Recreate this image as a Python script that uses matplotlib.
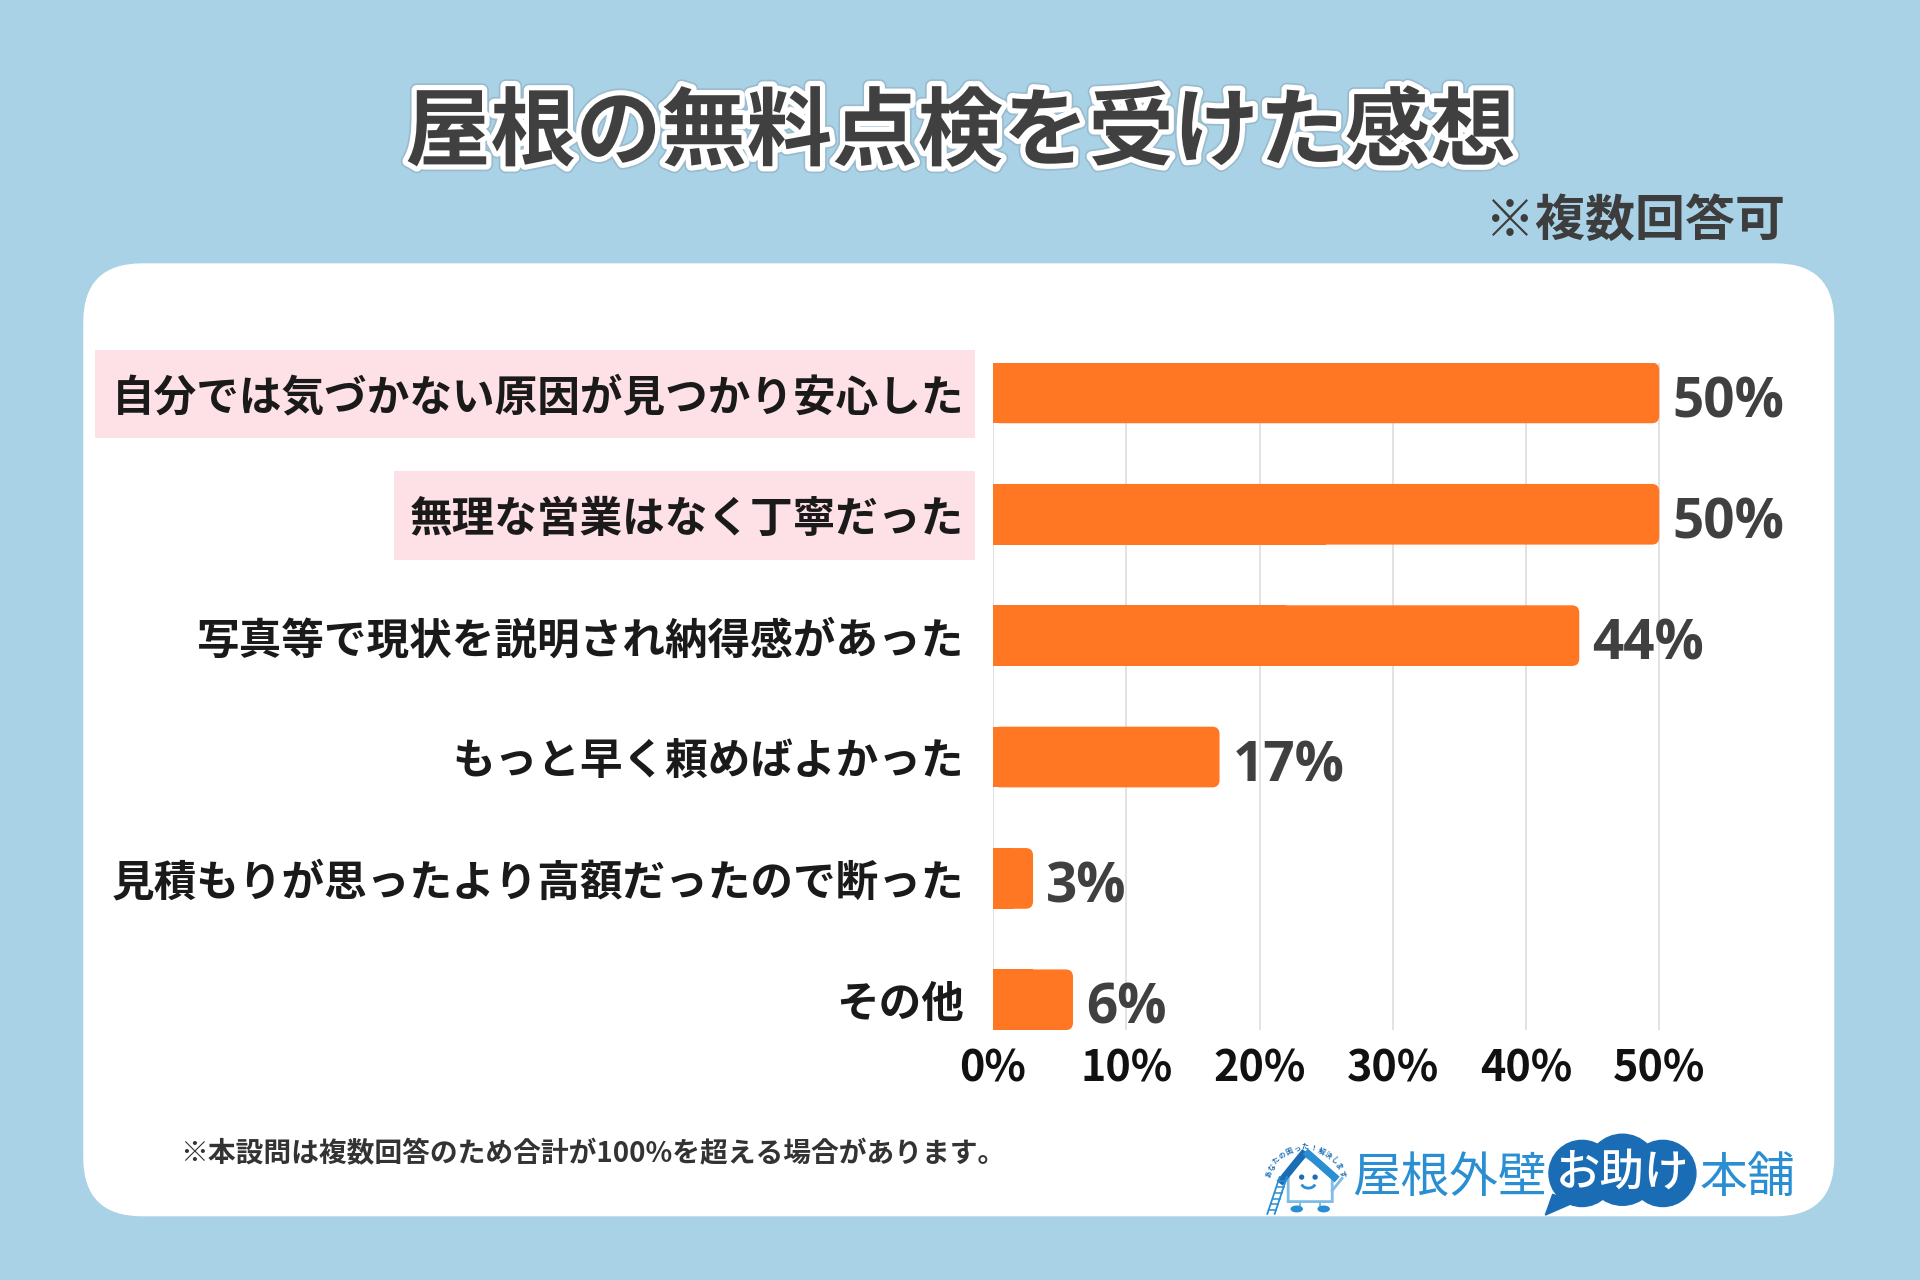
import matplotlib
matplotlib.use('Agg')
import matplotlib.pyplot as plt
from matplotlib.patches import FancyBboxPatch, Circle, Polygon, Ellipse, Arc, Rectangle
import matplotlib.patheffects as pe
import numpy as np

# ---------------- data ----------------
categories = [
    '自分では気づかない原因が見つかり安心した',
    '無理な営業はなく丁寧だった',
    '写真等で現状を説明され納得感があった',
    'もっと早く頼めばよかった',
    '見積もりが思ったより高額だったので断った',
    'その他',
]
values = [50, 50, 44, 17, 3, 6]
highlight = [True, True, False, False, False, False]
xticks = [0, 10, 20, 30, 40, 50]
xtick_labels = ['0%', '10%', '20%', '30%', '40%', '50%']
title = '屋根の無料点検を受けた感想'
subtitle = '※複数回答可'
footnote = '※本設問は複数回答のため合計が100%を超える場合があります。'
brand_left = '屋根外壁'
brand_mid = 'お助け'
brand_right = '本舗'
tagline = 'あなたの困った！解決します'

# ---------------- style ----------------
BG = '#AAD2E6'
ORANGE = '#FF7722'
PINK = '#FDE1E7'
DARK = '#404040'
BLUE = '#2A8ED2'
NAVY = '#1A6DB5'
JP = ['Noto Sans CJK JP', 'DejaVu Sans']
LAT = ['Open Sans', 'DejaVu Sans']
plt.rcParams['font.family'] = JP

fig = plt.figure(figsize=(19.2, 12.8), dpi=100)
fig.patch.set_facecolor(BG)

# background canvas in reference pixel units (1568 x 1045)
W, H = 1568, 1045
bg = fig.add_axes([0, 0, 1, 1])
bg.set_xlim(0, W)
bg.set_ylim(H, 0)
bg.axis('off')
bg.patch.set_alpha(0)

panel = FancyBboxPatch((68, 215), 1430, 778,
                       boxstyle='round,pad=0,rounding_size=48',
                       fc='white', ec='none', zorder=1)
bg.add_patch(panel)

bg.text(784, 109, title, ha='center', va='center', fontsize=61.5,
        fontweight='bold', color=DARK, zorder=5,
        path_effects=[pe.Stroke(linewidth=10, foreground='#8aa6b8', alpha=0.5),
                      pe.Stroke(linewidth=7.5, foreground='white'),
                      pe.Normal()])
bg.text(1458, 181, subtitle, ha='right', va='center', fontsize=36,
        fontweight='bold', color='#3d3d3d', zorder=5)
bg.text(147, 942, footnote, ha='left', va='center', fontsize=20,
        fontweight='bold', color='#333333', zorder=5)

# ---- logo ----
LB = '#7FBCE6'
# body
bg.add_patch(Polygon([[1052, 958], [1066, 944], [1088, 958], [1088, 981], [1052, 981]],
                     closed=True, fc='white', ec=LB, lw=2, zorder=6))
# arms
bg.plot([1088, 1096], [972, 962], color=LB, lw=2, zorder=6)
# roof
bg.plot([1045, 1066], [966, 940], color=NAVY, lw=5.5, solid_capstyle='butt', zorder=7)
bg.plot([1066, 1092], [940, 963], color=BLUE, lw=5.5, solid_capstyle='butt', zorder=7)
# face
bg.add_patch(Circle((1063, 961), 1.6, color=NAVY, zorder=7))
bg.add_patch(Circle((1074, 961), 1.6, color=NAVY, zorder=7))
bg.add_patch(Arc((1068.5, 965), 12, 10, theta1=20, theta2=160, color=BLUE, lw=2, zorder=7))
# legs & feet
bg.plot([1062, 1062], [981, 986], color=LB, lw=1.5, zorder=6)
bg.plot([1078, 1078], [981, 986], color=LB, lw=1.5, zorder=6)
bg.add_patch(Ellipse((1059, 987), 9, 4.5, color=BLUE, zorder=7))
bg.add_patch(Ellipse((1081, 987), 9, 4.5, color=BLUE, zorder=7))
# ladder
bg.plot([1035, 1045], [991, 961], color=BLUE, lw=1.3, zorder=8)
bg.plot([1041, 1051], [991, 961], color=BLUE, lw=1.3, zorder=8)
for k in range(6):
    t = k / 5.5
    ya = 988 - t * 26
    xa = 1036 + t * 9
    bg.plot([xa, xa + 6], [ya, ya], color=BLUE, lw=1.1, zorder=8)
# tagline along an arc
n = len(tagline)
for i, ch in enumerate(tagline):
    ang = np.deg2rad(165 - i * (150 / (n - 1)))
    cx, cy = 1066 + 31 * np.cos(ang), 966 - 29 * np.sin(ang)
    bg.text(cx, cy, ch, ha='center', va='center', fontsize=5, color=NAVY,
            fontweight='bold', rotation=np.rad2deg(ang) - 90, zorder=8)

bg.text(1104, 962, brand_left, ha='left', va='center', fontsize=35,
        color=BLUE, zorder=6)
for (cx, cy, r) in [(1292, 958, 27), (1325, 955, 29), (1358, 958, 27)]:
    bg.add_patch(Circle((cx, cy), r, color=NAVY, zorder=6))
bg.add_patch(Polygon([[1268, 975], [1262, 992], [1285, 982]], closed=True,
                     color=NAVY, zorder=6))
bg.text(1325, 958, brand_mid, ha='center', va='center', fontsize=32,
        color='white', fontweight='medium', zorder=7)
bg.text(1388, 962, brand_right, ha='left', va='center', fontsize=34.5,
        color=BLUE, zorder=6)

# ---------------- chart ----------------
x0, x50 = 811, 1355
xmax = 60
ax_w = (x50 - x0) / 50 * xmax
ax = fig.add_axes([x0 / W, 1 - 841 / H, ax_w / W, (841 - 296) / H])
ax.patch.set_alpha(0)
ax.set_zorder(3)

ypos = np.arange(len(categories))
bar_h = 0.5
bars = ax.barh(ypos, values, height=bar_h, color=ORANGE, zorder=3)
ax.set_xlim(0, xmax)
ax.set_ylim(len(categories) - 1 + bar_h / 2, -bar_h / 2)

# rounded right ends
px_per_x = (x50 - x0) / 50
px_per_y = 99
r_px = 6
for rect in bars:
    x, yb, w, h = rect.get_x(), rect.get_y(), rect.get_width(), rect.get_height()
    rr = r_px / px_per_x
    p = FancyBboxPatch((x, yb), w, h,
                       boxstyle=f'round,pad=0,rounding_size={rr}',
                       mutation_aspect=(r_px / px_per_y) / rr,
                       fc=ORANGE, ec='none', zorder=3)
    ax.add_patch(p)
    rect.set_width(w / 2)

for i, v in enumerate(values):
    ax.text(v + 1.0, i + 0.08, f'{v}%', ha='left', va='center', fontsize=39.5,
            fontweight='bold', color=DARK, family=LAT, zorder=4)

ax.set_xticks(xticks)
ax.set_xticklabels(xtick_labels, fontsize=31, fontweight='bold', color='#111111')
ax.set_yticks(ypos)
ax.set_yticklabels(categories, fontsize=30.7, fontweight='bold', color='#1a1a1a')
ax.tick_params(axis='y', length=0, pad=21)
ax.tick_params(axis='x', length=0, pad=12)

ax.grid(axis='x', color='#DDDDDD', lw=1.2, zorder=0)
ax.set_axisbelow(True)
for s in ax.spines.values():
    s.set_visible(False)

# pink highlight boxes behind highlighted category labels
fig.canvas.draw()
renderer = fig.canvas.get_renderer()
inv = bg.transData.inverted()
for lab, hl, yv in zip(ax.get_yticklabels(), highlight, ypos):
    if hl:
        ext = lab.get_window_extent(renderer)
        (lx, _), (rx, _) = inv.transform([[ext.x0, ext.y0], [ext.x1, ext.y1]])
        yc = inv.transform(ax.transData.transform([[0, yv]]))[0][1]
        bg.add_patch(Rectangle((lx - 13, yc - 35), (rx - lx) + 22, 72,
                               fc=PINK, ec='none', zorder=2))

fig.savefig('out.png', dpi=100, facecolor=BG)
